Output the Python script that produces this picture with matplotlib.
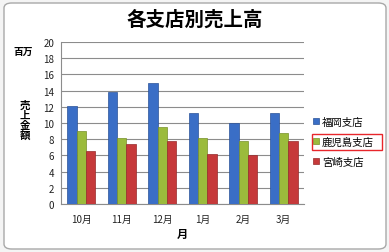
import numpy as np
import matplotlib.pyplot as plt
from matplotlib.patches import FancyBboxPatch, Rectangle

plt.rcParams['font.family'] = ['Noto Sans CJK JP', 'DejaVu Sans']

# data (unit: 百万)
months = ['10月', '11月', '12月', '1月', '2月', '3月']
fukuoka = [12.1, 13.8, 15.0, 11.2, 10.0, 11.2]
kagoshima = [9.0, 8.1, 9.5, 8.1, 7.8, 8.8]
miyazaki = [6.5, 7.4, 7.8, 6.2, 6.0, 7.8]
branches = ['福岡支店', '鹿児島支店', '宮崎支店']
colors = ['#3a6ec6', '#9bbb3c', '#c6393a']
edges = ['#2a5298', '#77912a', '#962a2b']

fig = plt.figure(figsize=(3.89, 2.53), dpi=100)
fig.patch.set_facecolor('#f4f4f4')

# rounded chart frame
frame = FancyBboxPatch((4/389, 3/253), 382/389, 246/253, boxstyle='round,pad=0,rounding_size=0.02',
                       transform=fig.transFigure, facecolor='white', edgecolor='#a8a8a8', lw=1,
                       zorder=-5)
fig.patches.append(frame)

ax = fig.add_axes([61/389, 1-205/253, 243/389, 162/253], zorder=2)
ax.set_facecolor('white')

x = np.arange(len(months))
w = 0.23
for i, (vals, c) in enumerate(zip([fukuoka, kagoshima, miyazaki], colors)):
    ax.bar(x + (i-1)*w, vals, width=w, color=c, edgecolor=edges[i], lw=0.5,
           label=branches[i], zorder=3)

ax.set_ylim(0, 20)
ax.set_xlim(-0.5, 5.5)
ax.set_yticks(range(0, 21, 2))
ax.set_xticks(x)
ax.set_xticklabels(months)
ax.grid(axis='y', color='#8c8c8c', lw=0.8, zorder=0)
for s in ['top', 'right']:
    ax.spines[s].set_visible(False)
ax.spines['left'].set_color('#8c8c8c')
ax.spines['bottom'].set_color('#8c8c8c')
ax.tick_params(axis='both', length=0, labelsize=7, colors='#222222', pad=5)
ax.tick_params(axis='x', pad=7)

fig.text(0.5, 1-20/253, '各支店別売上高', ha='center', va='center', fontsize=14, fontweight='bold')
fig.text(23/389, 1-52/253, '百万', ha='center', va='center', fontsize=7, fontweight='bold')
fig.text(25/389, 1-121/253, '売\n上\n金\n額', ha='center', va='center', fontsize=7.5,
         fontweight='bold', linespacing=1.0)
fig.text(182/389, 1-234/253, '月', ha='center', va='center', fontsize=8, fontweight='bold')

leg = ax.legend(loc='upper left', bbox_to_anchor=(313/389, 1-118/253), bbox_transform=fig.transFigure,
                frameon=False, fontsize=7.5, handlelength=0.55, handleheight=0.55, handletextpad=0.3,
                labelspacing=0.95, borderaxespad=0, borderpad=0)

fig.patches.append(Rectangle((312/389, 1-151/253), 70/389, 16/253, transform=fig.transFigure,
                             fill=False, edgecolor='#e8262b', lw=1, zorder=10))

fig.savefig('out.png', dpi=100, facecolor=fig.get_facecolor())
